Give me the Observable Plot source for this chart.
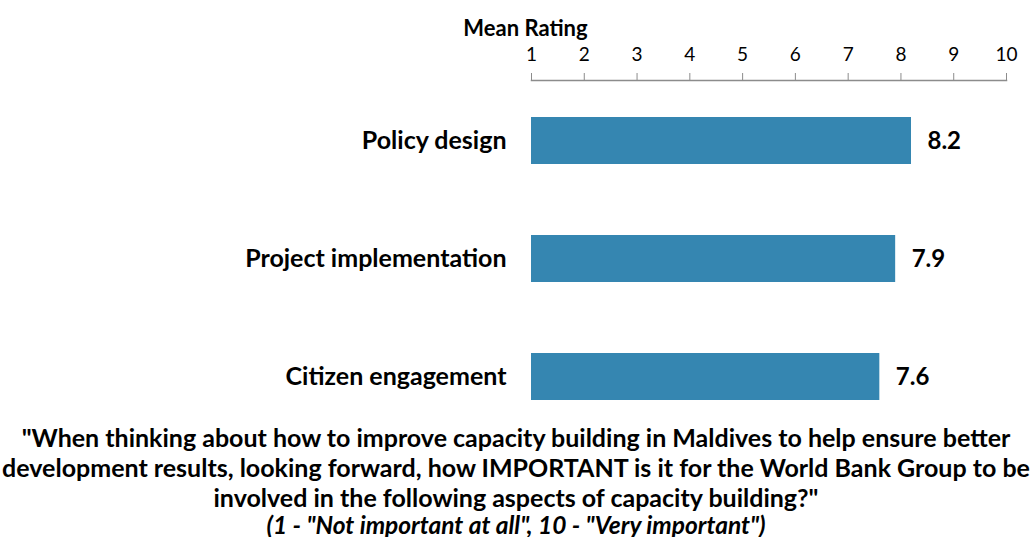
<!DOCTYPE html>
<html><head><meta charset="utf-8">
<script src="https://cdn.jsdelivr.net/npm/d3@7"></script>
<script src="https://cdn.jsdelivr.net/npm/@observablehq/plot@0.6"></script>
<style>
body{margin:0;background:#fff;font-family:Lato,"Open Sans",sans-serif;}
#wrap{width:1032px;}
.cap{width:1032px;text-align:center;font-weight:bold;font-size:25px;line-height:30px;color:#000;margin-top:2px;white-space:nowrap;}
.cap i{display:block;line-height:25px;font-size:24.5px;}
</style></head><body>
<div id="wrap"></div>
<script>
const categories = ["Policy design", "Project implementation", "Citizen engagement"];
const values = [8.2, 7.9, 7.6];
const ticks = [1,2,3,4,5,6,7,8,9,10];
const axisTitle = "Mean Rating";
const data = categories.map((c,i)=>({cat:c, v:values[i]}));
const font = "Lato, 'Open Sans', sans-serif";
const chart = Plot.plot({
  width:1032, height:420,
  marginLeft:531, marginRight:26, marginTop:80, marginBottom:0,
  style:{fontFamily:font, background:"#fff", color:"#000"},
  x:{domain:[1,10]},
  y:{domain:categories, paddingInner:0.6, paddingOuter:0.24, align:0.643},
  marks:[
    Plot.frame({anchor:"top", stroke:"#8c8c8c", strokeWidth:1.5}),
    Plot.barX(data,{x1:1, x2:"v", y:"cat", fill:"#3586B1"}),
    Plot.text(data,{x:"v", y:"cat", text:d=>d.v.toFixed(1), textAnchor:"start", dx:16, fontSize:24, fontWeight:"bold", fill:"#000"}),
    Plot.axisY({tickSize:0, tickPadding:25, fontSize:25, fontWeight:"bold", label:null, fill:"#000"}),
    Plot.axisX({anchor:"top", ticks:ticks, tickFormat:d=>String(d), tickSize:8, tickPadding:12, fontSize:19, stroke:"#8c8c8c", fill:"#000", label:null}),
    Plot.text([axisTitle],{frameAnchor:"top-left", x:()=>1, dy:-60, dx:-6, text:d=>d, textAnchor:"middle", fontSize:22, fontWeight:"bold", fill:"#000"})
  ]
});
document.getElementById("wrap").appendChild(chart);
const cap = document.createElement("div");
cap.className="cap";
cap.innerHTML = '"When thinking about how to improve capacity building in Maldives to help ensure better<br>development results, looking forward, how IMPORTANT is it for the World Bank Group to be<br>involved in the following aspects of capacity building?"<i>(1 - "Not important at all", 10 - "Very important")</i>';
document.getElementById("wrap").appendChild(cap);
</script>
</body></html>
